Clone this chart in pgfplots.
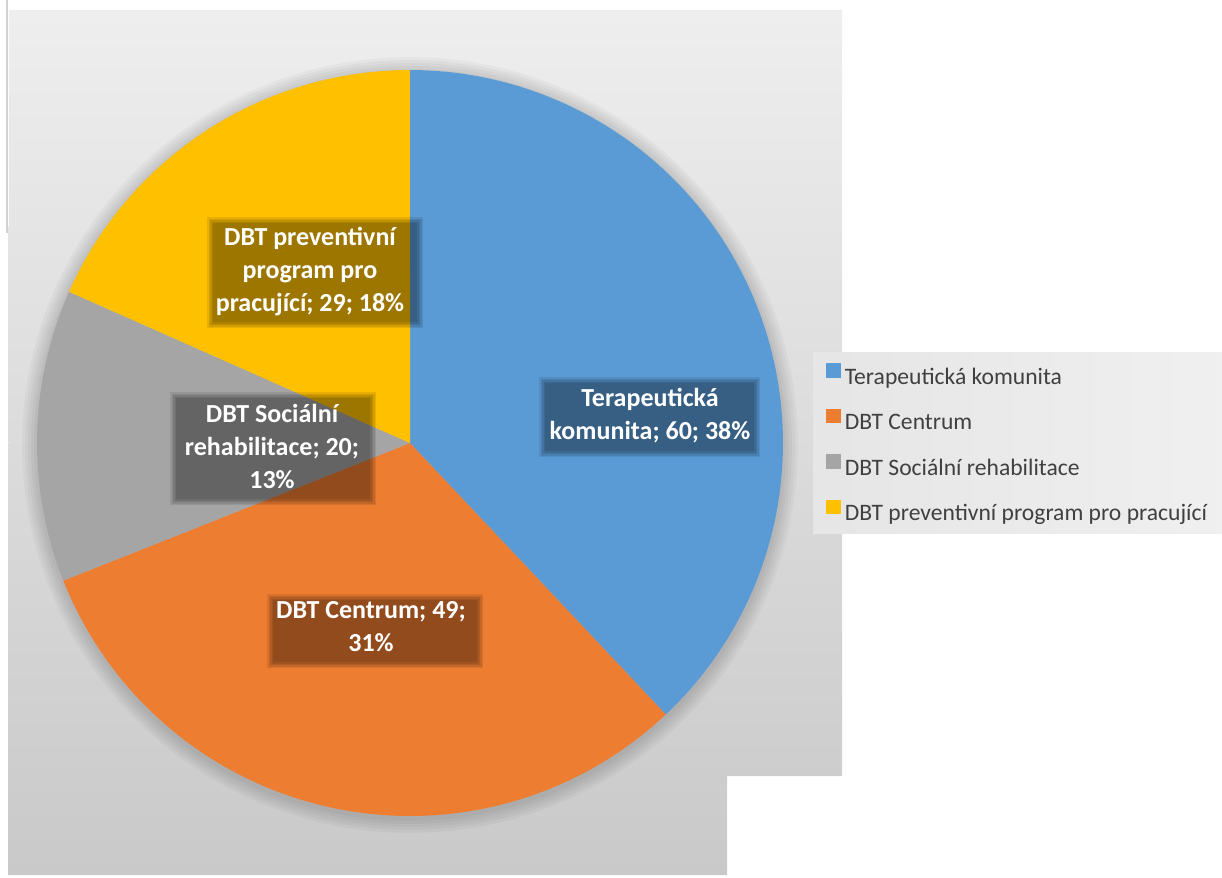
\documentclass[border=0pt]{standalone}
\usepackage{pgfplots}
\pgfplotsset{compat=1.18}
\usepackage{pgfplotstable}
\usepackage{fontspec}
\setmainfont{Carlito}
\definecolor{cBlue}{HTML}{5B9BD5}
\definecolor{cOrange}{HTML}{ED7D31}
\definecolor{cGray}{HTML}{A5A5A5}
\definecolor{cYellow}{HTML}{FFC000}
\definecolor{txt}{HTML}{404040}
\definecolor{bgTop}{HTML}{EEEEEE}
\definecolor{bgBot}{HTML}{C9C9C9}

\pgfplotstableread{
name value
T 60
C 49
S 20
P 29
}\piedata

\newcommand{\lbox}[4]{%
 \fill[black,opacity=0.09] (axis cs:{#1-3},{#2-3}) rectangle (axis cs:{#3+3},{#4+3});
 \fill[black,opacity=0.09] (axis cs:{#1-1.5},{#2-1.5}) rectangle (axis cs:{#3+1.5},{#4+1.5});
 \fill[black,opacity=0.09] (axis cs:{#1},{#2}) rectangle (axis cs:{#3},{#4});
 \fill[black,opacity=0.09] (axis cs:{#1+1.5},{#2+1.5}) rectangle (axis cs:{#3-1.5},{#4-1.5});
 \fill[black,opacity=0.09] (axis cs:{#1+3},{#2+3}) rectangle (axis cs:{#3-3},{#4-3});}
\newcommand{\labfont}{\fontsize{13}{16.5}\selectfont\bfseries}

\begin{document}
\begin{tikzpicture}
\pgfplotstablegetelem{0}{value}\of\piedata \let\va\pgfplotsretval
\pgfplotstablegetelem{1}{value}\of\piedata \let\vb\pgfplotsretval
\pgfplotstablegetelem{2}{value}\of\piedata \let\vc\pgfplotsretval
\pgfplotstablegetelem{3}{value}\of\piedata \let\vd\pgfplotsretval
\pgfmathsetmacro{\tot}{\va+\vb+\vc+\vd}
\pgfmathsetmacro{\eA}{\va/\tot*360}
\pgfmathsetmacro{\eB}{\eA+\vb/\tot*360}
\pgfmathsetmacro{\eC}{\eB+\vc/\tot*360}
\begin{axis}[scale only axis, width=611pt, height=439pt,
  xmin=0, xmax=1222, ymin=0, ymax=878, y dir=reverse,
  hide axis, clip=false,
  legend style={at={(axis cs:826,363)}, anchor=north west, draw=none, fill=none,
    font=\fontsize{11.8}{14}\selectfont, text=txt, row sep=9.3pt, inner sep=0pt,
    nodes={inner xsep=2pt, inner ysep=0pt, text height=10pt, text depth=3pt}},
  legend cell align=left,
  legend image code/.code={\fill[#1,draw=none] (0pt,-0.3pt) rectangle (7.2pt,6.9pt);},
]
% background panel
\shade[top color=bgTop, bottom color=bgBot] (axis cs:9,10) -- (axis cs:842,10) -- (axis cs:842,776) -- (axis cs:727,776) -- (axis cs:727,875) -- (axis cs:8,875) -- cycle;
\draw[black!18, line width=1pt] (axis cs:7,0) -- (axis cs:7,233);
% legend background
\shade[left color=black!10, right color=black!6] (axis cs:813,352) rectangle (axis cs:1222,533);
% pie shadow
\pgfplotsinvokeforeach{3,6,9,12,15}{
\addplot[forget plot, fill=black, fill opacity=0.03, draw=none, domain=0:360, samples=150] ({410+(373+#1)*sin(x)},{445-(373+#1)*cos(x)}) -- cycle;
}
% slices
\addplot[fill=cBlue, draw=none, domain=0:\eA, samples=100] ({410+373*sin(x)},{443-373*cos(x)}) -- (axis cs:410,443) -- cycle;
\addlegendentry{Terapeutická komunita}
\addplot[fill=cOrange, draw=none, domain=\eA:\eB, samples=100] ({410+373*sin(x)},{443-373*cos(x)}) -- (axis cs:410,443) -- cycle;
\addlegendentry{DBT Centrum}
\addplot[fill=cGray, draw=none, domain=\eB:\eC, samples=60] ({410+373*sin(x)},{443-373*cos(x)}) -- (axis cs:410,443) -- cycle;
\addlegendentry{DBT Sociální rehabilitace}
\addplot[fill=cYellow, draw=none, domain=\eC:360, samples=60] ({410+373*sin(x)},{443-373*cos(x)}) -- (axis cs:410,443) -- cycle;
\addlegendentry{DBT preventivní program pro pracující}
% data labels
\lbox{542}{380}{757}{454}
\node[font=\labfont, text=white, align=center] at (axis cs:650,416) {Terapeutická\\komunita; 60; 38\%};
\lbox{270}{597}{480}{665}
\node[font=\labfont, text=white, align=center] at (axis cs:371,627) {DBT Centrum; 49;\\31\%};
\lbox{173}{395}{373}{502}
\node[font=\labfont, text=white, align=center] at (axis cs:272,446) {DBT Sociální\\rehabilitace; 20;\\13\%};
\lbox{210}{220}{420}{325}
\node[font=\labfont, text=white, align=center] at (axis cs:310,272) {DBT preventivní\\program pro\\pracující; 29; 18\%};
\end{axis}
\pgfresetboundingbox
\path[use as bounding box] (current axis.south west) rectangle (current axis.north east);
\end{tikzpicture}
\end{document}
